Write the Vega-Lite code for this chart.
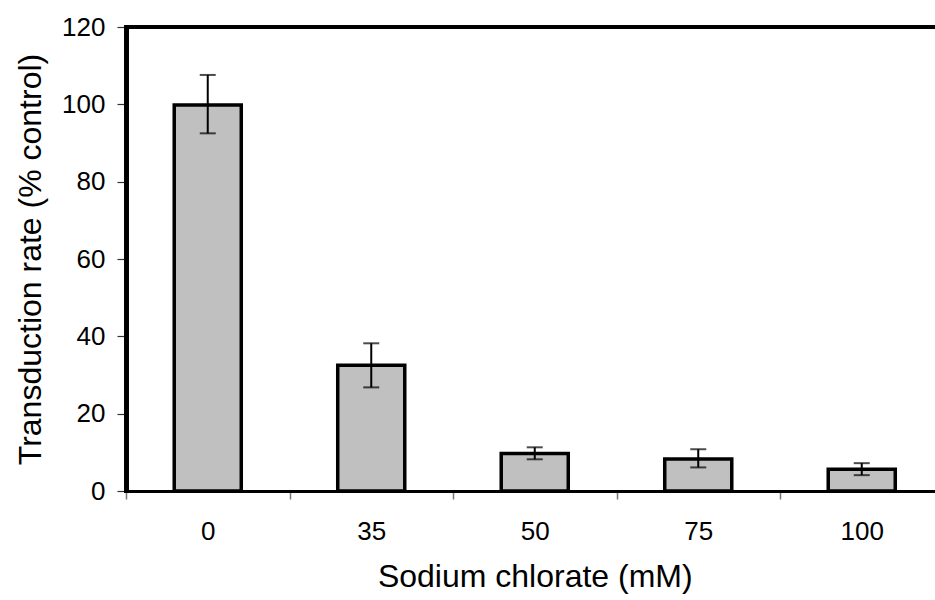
{
  "$schema": "https://vega.github.io/schema/vega-lite/v6.json",
  "autosize": {"type": "none"},
  "padding": {"left": 126, "top": 27, "right": 0, "bottom": 109},
  "width": 809,
  "height": 464,
  "background": "white",
  "config": {
    "view": {"stroke": null},
    "font": "Liberation Sans",
    "axis": {"labelFont": "Liberation Sans", "titleFont": "Liberation Sans", "labelColor": "black", "titleColor": "black", "titleFontWeight": "normal", "grid": false, "domainColor": "black", "labelFontSize": 26, "titleFontSize": 32},
    "axisX": {"domainWidth": 3, "tickColor": "#777", "tickWidth": 1.5, "tickSize": 8, "labelPadding": 19, "titlePadding": 17},
    "axisY": {"domainWidth": 4, "tickColor": "#333", "tickWidth": 1.2, "tickSize": 9, "labelPadding": 12, "titlePadding": 14}
  },
  "data": {"values": [
    {"c": "0", "v": 99.8, "lo": 92.5, "hi": 107.6},
    {"c": "35", "v": 32.5, "lo": 26.8, "hi": 38.2},
    {"c": "50", "v": 9.7, "lo": 8.2, "hi": 11.3},
    {"c": "75", "v": 8.3, "lo": 6.1, "hi": 10.8},
    {"c": "100", "v": 5.6, "lo": 4.1, "hi": 7.2}
  ]},
  "encoding": {
    "x": {
      "field": "c", "type": "nominal", "sort": null,
      "scale": {"range": [0, 817.5], "paddingInner": 0, "paddingOuter": 0},
      "axis": {"orient": "bottom", "title": "Sodium chlorate (mM)", "labelAngle": 0, "tickBand": "extent"}
    }
  },
  "layer": [
    {
      "mark": {"type": "bar", "width": {"band": 0.41}, "fill": "#c0c0c0", "stroke": "black", "strokeWidth": 3.5},
      "encoding": {
        "y": {
          "field": "v", "type": "quantitative",
          "scale": {"domain": [0, 120], "nice": false},
          "axis": {"title": "Transduction rate (% control)", "values": [0, 20, 40, 60, 80, 100, 120]}
        }
      }
    },
    {
      "mark": {"type": "rule", "color": "black", "strokeWidth": 2},
      "encoding": {
        "y": {"field": "lo", "type": "quantitative"},
        "y2": {"field": "hi"}
      }
    },
    {
      "mark": {"type": "tick", "color": "black", "thickness": 2, "size": 16, "orient": "horizontal"},
      "encoding": {"y": {"field": "lo", "type": "quantitative"}}
    },
    {
      "mark": {"type": "tick", "color": "black", "thickness": 2, "size": 16, "orient": "horizontal"},
      "encoding": {"y": {"field": "hi", "type": "quantitative"}}
    },
    {
      "mark": {"type": "rule", "color": "black", "strokeWidth": 3.5},
      "encoding": {
        "y": {"datum": 120, "type": "quantitative"},
        "x": {"value": 0},
        "x2": {"value": 817.5}
      }
    },
    {
      "mark": {"type": "rule", "color": "black", "strokeWidth": 4, "strokeCap": "square"},
      "encoding": {
        "y": {"datum": 0, "type": "quantitative"},
        "y2": {"datum": 120},
        "x": {"value": 0.5}
      }
    }
  ]
}
